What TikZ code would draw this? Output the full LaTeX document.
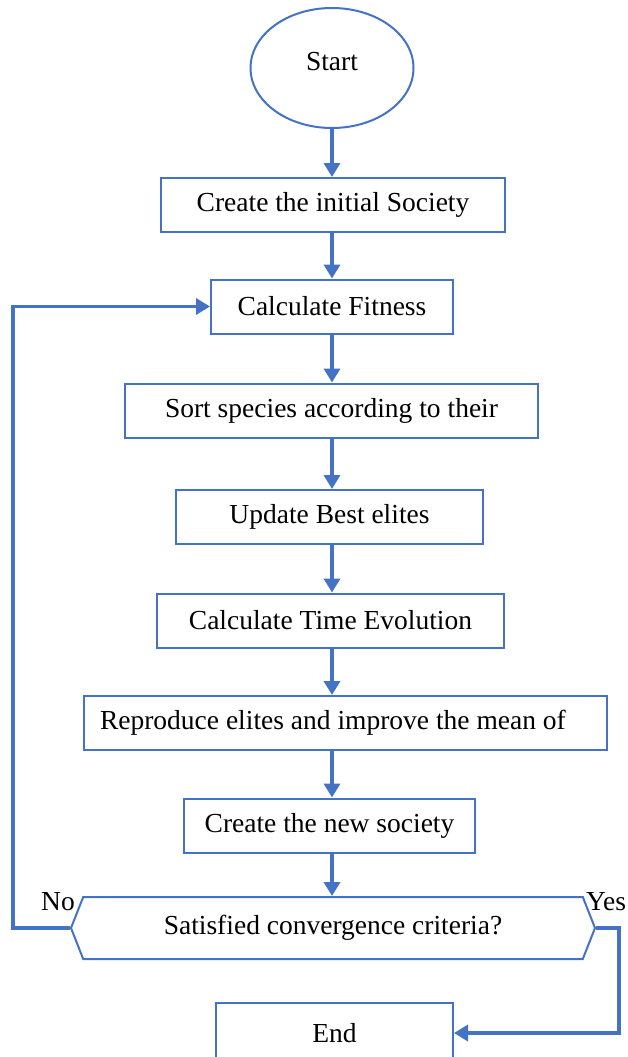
\documentclass[tikz,border=0pt]{standalone}
\usepackage{fontspec}
\setmainfont{Liberation Serif}
\usetikzlibrary{arrows.meta, positioning, shapes.geometric, shapes.symbols}
\definecolor{flowblue}{HTML}{4472C4}

\begin{document}
\begin{tikzpicture}[
    x=1pt, y=-1pt,
    font=\fontsize{27.5}{32}\selectfont,
    box/.style={rectangle, draw=flowblue, line width=2pt, minimum height=54pt, inner sep=0pt},
    term/.style={ellipse, draw=flowblue, line width=2pt, minimum width=163pt, minimum height=120pt, inner sep=0pt},
    test/.style={signal, signal to=west and east, signal pointer angle=137, draw=flowblue, line width=2pt, minimum width=524pt, minimum height=62pt, inner sep=0pt},
    arrow/.style={-{Triangle[length=14pt, width=16pt]}, draw=flowblue, line width=3.5pt}
  ]
    \useasboundingbox (0,0) rectangle (627,1057);
    \coordinate (spine) at (332,0);

    \node[term, text depth=14pt] (start) at (332,68) {Start};
    \node[box, minimum width=344pt] (init) at (333,205) {Create the initial Society};
    \node[box, minimum width=242pt] (fitness) at (332,306.5) {Calculate Fitness};
    \node[box, minimum width=413pt] (sort) at (331.5,410.5) {Sort species according to their};
    \node[box, minimum width=307pt] (elites) at (329.5,517) {Update Best elites};
    \node[box, minimum width=347pt] (time) at (330.5,620.5) {Calculate Time Evolution};
    \node[box, text width=491pt, inner xsep=16pt, align=flush left] (reproduce) at (345.5,723) {Reproduce elites and improve the mean of};
    \node[box, minimum width=291pt] (society) at (329.5,825.5) {Create the new society};
    \node[test] (check) at (333,928) {Satisfied convergence criteria?};
    \node[box, minimum width=237pt, minimum height=60pt] (finish) at (334.5,1033) {End};

    \node (no) at (58,902) {No};
    \node (yes) at (606,902) {Yes};

    \draw[arrow] (start.south -| spine) -- (init.north -| spine);
    \draw[arrow] (init.south -| spine) -- (fitness.north -| spine);
    \draw[arrow] (fitness.south -| spine) -- (sort.north -| spine);
    \draw[arrow] (sort.south -| spine) -- (elites.north -| spine);
    \draw[arrow] (elites.south -| spine) -- (time.north -| spine);
    \draw[arrow] (time.south -| spine) -- (reproduce.north -| spine);
    \draw[arrow] (reproduce.south -| spine) -- (society.north -| spine);
    \draw[arrow] (society.south -| spine) -- (check.north -| spine);
    \draw[arrow] (check.west) -- ++(-57,0) |- (fitness.west);
    \draw[arrow] (check.east) -- ++(23,0) |- (finish.east);
  \end{tikzpicture}
\end{document}
